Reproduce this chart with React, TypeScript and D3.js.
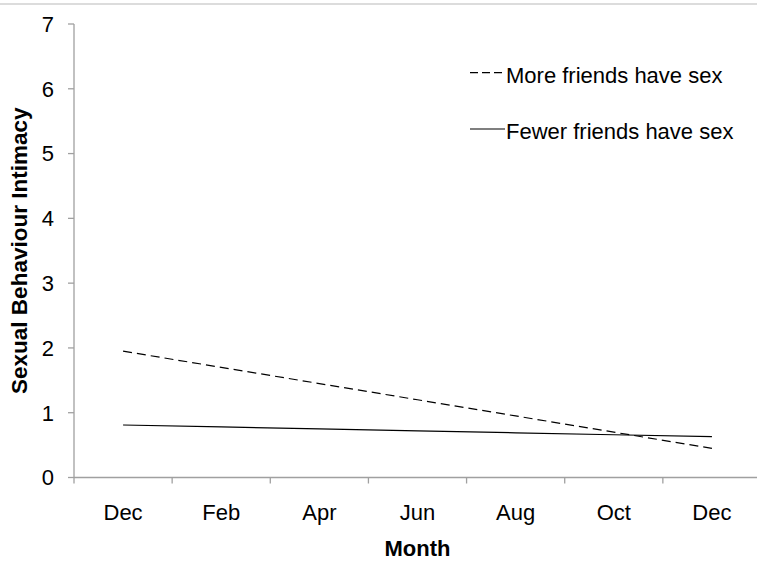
import React from "react";
import * as d3 from "d3";

const months = ["Dec", "Feb", "Apr", "Jun", "Aug", "Oct", "Dec "];
const moreFriends = [1.95, 1.70, 1.45, 1.20, 0.95, 0.70, 0.45];
const fewerFriends = [0.81, 0.78, 0.75, 0.72, 0.69, 0.66, 0.63];
const yTicks = [0, 1, 2, 3, 4, 5, 6, 7];
const seriesNames = ["More friends have sex", "Fewer friends have sex"];

const W = 757;
const H = 573;
const left = 74;
const right = 761;
const top = 24;
const bottom = 477.5;
const FONT = "Liberation Sans, Arial, sans-serif";
const AXIS = "#a0a0a0";

export default function App() {
  const x = d3.scaleBand<string>().domain(months).range([left, right]).paddingInner(0).paddingOuter(0);
  const y = d3.scaleLinear().domain([0, 7]).range([bottom, top]);
  const cx = (m: string) => (x(m) as number) + x.bandwidth() / 2;
  const line = d3
    .line<number>()
    .x((_, i) => cx(months[i]))
    .y((v) => y(v));

  const boundaries = months.map((m) => x(m) as number).concat([right]);

  return (
    <div style={{ position: "fixed", left: 0, top: 0 }}>
      <svg width={W} height={H} style={{ display: "block", background: "#fff" }} fontFamily={FONT}>
        <line x1={0} x2={W} y1={4} y2={4} stroke="#d0d0d0" strokeWidth={1.5} />
        {/* y axis */}
        <line x1={left} x2={left} y1={top} y2={bottom} stroke={AXIS} strokeWidth={1.3} />
        {yTicks.map((t) => (
          <g key={t}>
            <line x1={left - 6} x2={left} y1={y(t)} y2={y(t)} stroke={AXIS} strokeWidth={1.3} />
            <text x={54} y={y(t)} dy="0.36em" textAnchor="end" fontSize={22} fill="#000">
              {t}
            </text>
          </g>
        ))}
        {/* x axis */}
        <line x1={left} x2={right} y1={bottom} y2={bottom} stroke={AXIS} strokeWidth={1.3} />
        {boundaries.map((b, i) => (
          <line key={i} x1={b} x2={b} y1={bottom} y2={bottom + 6} stroke={AXIS} strokeWidth={1.3} />
        ))}
        {months.map((m, i) => (
          <text key={i} x={cx(m)} y={519.5} textAnchor="middle" fontSize={22} fill="#000">
            {m.trim()}
          </text>
        ))}
        <text x={(left + right) / 2} y={556} textAnchor="middle" fontSize={22} fontWeight="bold" fill="#000">
          Month
        </text>
        <text
          transform={`translate(27,${(top + bottom) / 2}) rotate(-90)`}
          textAnchor="middle"
          fontSize={22.5}
          fontWeight="bold"
          fill="#000"
        >
          Sexual Behaviour Intimacy
        </text>
        {/* series */}
        <path d={line(moreFriends) as string} fill="none" stroke="#000" strokeWidth={1.2} strokeDasharray="9,5" />
        <path d={line(fewerFriends) as string} fill="none" stroke="#000" strokeWidth={1.2} />
        {/* legend */}
        <line x1={470} x2={505} y1={72.7} y2={72.7} stroke="#000" strokeWidth={1.2} strokeDasharray="8,4" />
        <text x={506} y={82.5} fontSize={22} fill="#000">
          {seriesNames[0]}
        </text>
        <line x1={470} x2={505} y1={129} y2={129} stroke="#000" strokeWidth={1.2} />
        <text x={506} y={138.5} fontSize={22} fill="#000">
          {seriesNames[1]}
        </text>
      </svg>
    </div>
  );
}
